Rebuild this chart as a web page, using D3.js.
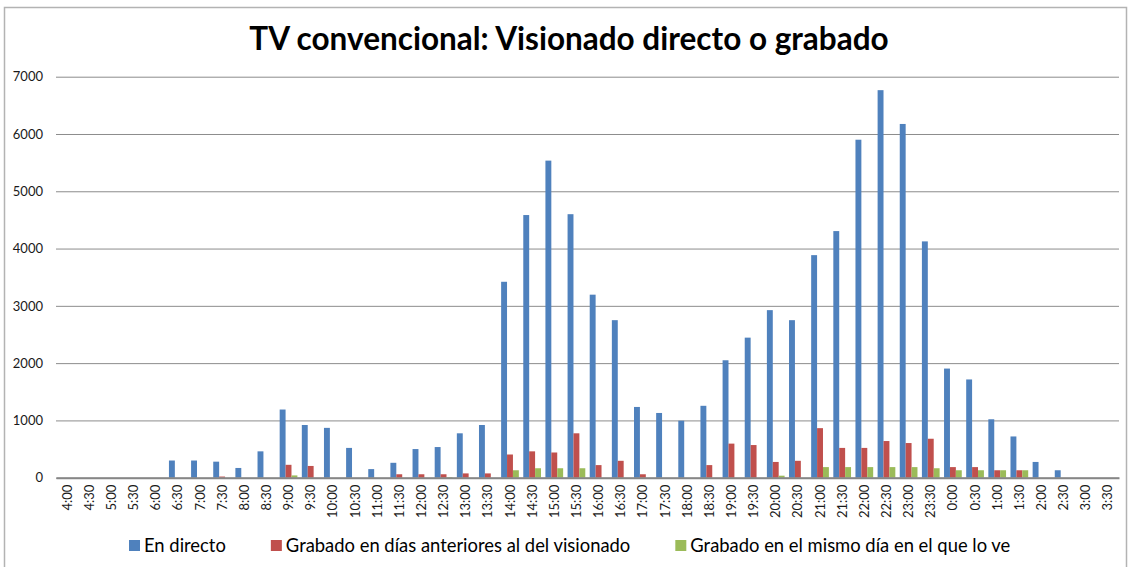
<!DOCTYPE html>
<html>
<head>
<meta charset="utf-8">
<script src="https://cdn.jsdelivr.net/npm/d3@7"></script>
<style>
  body { margin: 0; background: #fff; }
  text { font-family: Lato, "Open Sans", sans-serif; }
</style>
</head>
<body>
<div id="chart"></div>
<script>
// categories (half-hour slots)
const categories = ["4:00","4:30","5:00","5:30","6:00","6:30","7:00","7:30","8:00","8:30",
  "9:00","9:30","10:00","10:30","11:00","11:30","12:00","12:30","13:00","13:30",
  "14:00","14:30","15:00","15:30","16:00","16:30","17:00","17:30","18:00","18:30",
  "19:00","19:30","20:00","20:30","21:00","21:30","22:00","22:30","23:00","23:30",
  "0:00","0:30","1:00","1:30","2:00","2:30","3:00","3:30"]

const enDirecto = [0,0,0,0,0,300,300,280,170,460,
  1190,920,870,520,150,260,500,535,775,920,
  3420,4585,5535,4600,3195,2750,1235,1130,995,1255,
  2050,2445,2925,2750,3885,4305,5900,6765,6175,4125,
  1905,1715,1020,720,275,130,0,0]

const grabadoAnteriores = [0,0,0,0,0,0,0,20,0,0,
  225,205,0,0,0,60,60,60,75,75,
  405,460,440,775,220,295,60,0,0,220,
  595,570,275,295,865,520,520,640,605,680,
  185,185,130,130,0,0,0,0]

const grabadoMismoDia = [0,0,0,0,0,0,0,0,0,0,
  40,0,0,0,0,0,0,10,0,0,
  130,165,165,165,0,0,0,0,0,0,
  0,0,35,0,185,185,185,185,185,165,
  130,130,130,130,0,0,0,0]

const seriesNames = ["En directo", "Grabado en días anteriores al del visionado", "Grabado en el mismo día en el que lo ve"]
const colors = ["#4F81BD", "#C0504D", "#9BBB59"]
const yTicks = [0,1000,2000,3000,4000,5000,6000,7000]

const data = categories.map((c, i) => ({
  cat: c,
  values: [enDirecto[i], grabadoAnteriores[i], grabadoMismoDia[i]]
}))

const W = 1129, H = 567
const plot = {left: 56, right: 1119, top: 76.7, bottom: 477.7}

const svg = d3.select("#chart")
  .append("svg")
    .attr("width", W)
    .attr("height", H)

svg.append("rect")
  .attr("width", W).attr("height", H)
  .attr("fill", "#fff")

// chart border
svg.append("rect")
  .attr("x", 4.5).attr("y", 7.5)
  .attr("width", 1122).attr("height", 620)
  .attr("fill", "none")
  .attr("stroke", "#b3b3b3")
  .attr("stroke-width", 1.5)

// title
svg.append("text")
  .attr("x", 569).attr("y", 50)
  .attr("text-anchor", "middle")
  .style("font-size", "31.5px")
  .style("font-weight", "bold")
  .attr("fill", "#000")
  .text("TV convencional: Visionado directo o grabado")

// scales
const x0 = d3.scaleBand()
  .domain(categories)
  .range([plot.left, plot.right])
  .padding(0)

const x1 = d3.scaleBand()
  .domain(d3.range(3))
  .range([x0.bandwidth() * 0.1, x0.bandwidth() * 0.9])
  .padding(0)

const y = d3.scaleLinear()
  .domain([0, 7000])
  .range([plot.bottom, plot.top])

// gridlines + y labels
const yAxis = svg.append("g")
  .attr("transform", `translate(${plot.left},0)`)
  .call(d3.axisLeft(y).tickValues(yTicks).tickFormat(d3.format("d"))
    .tickSize(-(plot.right - plot.left)).tickPadding(13))
yAxis.select(".domain").remove()
yAxis.selectAll(".tick line")
  .attr("stroke", "#8c8c8c")
  .attr("stroke-width", 1)
yAxis.selectAll(".tick text")
  .style("font-size", "13px")
  .attr("fill", "#1a1a1a")
  .style("font-family", "Lato, sans-serif")

// bars
const groups = svg.append("g")
  .selectAll("g")
  .data(data)
  .join("g")
    .attr("transform", d => `translate(${x0(d.cat)},0)`)

groups.selectAll("rect")
  .data(d => d.values.map((v, k) => ({k: k, v: v})))
  .join("rect")
    .attr("x", d => x1(d.k))
    .attr("y", d => y(d.v))
    .attr("width", x1.bandwidth())
    .attr("height", d => y(0) - y(d.v))
    .attr("fill", d => colors[d.k])

// x axis
const xAxis = svg.append("g")
  .attr("transform", `translate(0,${plot.bottom})`)
  .call(d3.axisBottom(x0).tickSize(0).tickPadding(0))
xAxis.select(".domain")
  .attr("stroke", "#868686")
  .attr("stroke-width", 2)
xAxis.selectAll("text")
  .attr("transform", "rotate(-90)")
  .attr("x", -7)
  .attr("y", 0)
  .attr("dy", "0.35em")
  .style("text-anchor", "end")
  .style("font-size", "13px")
  .style("font-family", "Lato, sans-serif")
  .attr("fill", "#1a1a1a")

// legend
const legend = svg.append("g")
const items = legend.selectAll("g")
  .data(seriesNames)
  .join("g")
items.append("rect")
  .attr("width", 11).attr("height", 11)
  .attr("y", -6)
  .attr("fill", (d, i) => colors[i])
items.append("text")
  .attr("x", 15)
  .attr("dy", "0.35em")
  .style("font-size", "18.4px")
  .attr("fill", "#000")
  .text(d => d)

let offset = 129
const gap = 45
items.attr("transform", function() {
  const t = `translate(${offset},546)`
  offset += this.getBBox().width + gap
  return t
})
</script>
</body>
</html>
